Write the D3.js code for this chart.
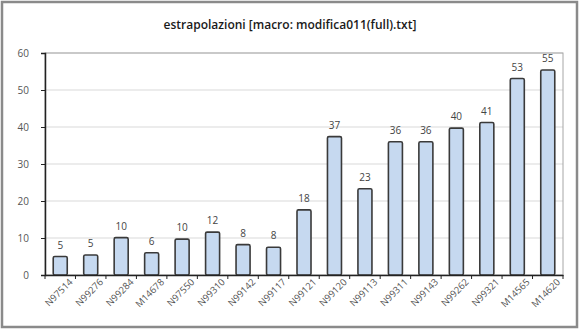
<!DOCTYPE html>
<html lang="it">
  <head>
    <meta charset="utf-8">
    <title>estrapolazioni</title>
    <style>
      body { margin: 0; background: #fff; }
      text { font-family: "Open Sans", "Liberation Sans", sans-serif; }
    </style>
  </head>
  <body>
    <div id="chart"></div>
    <script src="https://d3js.org/d3.v7.min.js"></script>
    <script>

    // data
    var categories = ["N97514", "N99276", "N99284", "M14678", "N97550", "N99310", "N99142", "N99117",
                      "N99121", "N99120", "N99113", "N99311", "N99143", "N99262", "N99321", "M14565", "M14620"];
    var values = [5.0, 5.4, 10.1, 6.0, 9.7, 11.6, 8.2, 7.5, 17.6, 37.4, 23.3, 36.0, 36.0, 39.7, 41.2, 53.1, 55.4];
    var yTicks = [0, 10, 20, 30, 40, 50, 60];
    var title = "estrapolazioni [macro: modifica011(full).txt]";

    var W = 579, H = 329;
    var margin = {top: 53, right: 16, bottom: 54, left: 45};
    var width = W - margin.left - margin.right,
        height = H - margin.top - margin.bottom;

    var svg = d3.select("#chart").append("svg")
        .attr("width", W)
        .attr("height", H);

    // outer frame
    svg.append("rect")
        .attr("x", 2).attr("y", 2)
        .attr("width", W - 4).attr("height", H - 4)
        .attr("fill", "#fff")
        .attr("stroke", "#8a8a8a")
        .attr("stroke-width", 2.5);

    svg.append("text")
        .attr("x", 290).attr("y", 29)
        .attr("text-anchor", "middle")
        .attr("font-size", "12px")
        .attr("font-weight", 600)
        .attr("fill", "#1a1a1a")
        .text(title);

    var g = svg.append("g")
        .attr("transform", "translate(" + margin.left + "," + margin.top + ")");

    var x = d3.scaleBand().domain(categories).range([0, width]).paddingInner(0.54).paddingOuter(0.27);
    var y = d3.scaleLinear().domain([0, 60]).range([height, 0]);

    // gridlines
    g.selectAll(".grid")
      .data(yTicks.slice(1))
      .enter().append("line")
        .attr("x1", 0).attr("x2", width)
        .attr("y1", function(d){ return y(d) }).attr("y2", function(d){ return y(d) })
        .attr("stroke", "#d9d9d9").attr("stroke-width", 1.2);

    // plot area border
    g.append("rect")
        .attr("width", width).attr("height", height)
        .attr("fill", "none").attr("stroke", "#a6a6a6").attr("stroke-width", 1);

    // bars
    g.selectAll(".bar")
      .data(values)
      .enter().append("rect")
        .attr("x", function(d, i){ return x(categories[i]) })
        .attr("y", function(d){ return y(d) })
        .attr("width", x.bandwidth())
        .attr("height", function(d){ return height - y(d) })
        .attr("rx", 1.5)
        .attr("fill", "#c6d9f0")
        .attr("stroke", "#3a3a3a")
        .attr("stroke-width", 1.6);

    // value labels
    g.selectAll(".val")
      .data(values)
      .enter().append("text")
        .attr("x", function(d, i){ return x(categories[i]) + x.bandwidth() / 2 })
        .attr("y", function(d){ return y(d) - 8 })
        .attr("text-anchor", "middle")
        .attr("font-size", "10px")
        .attr("fill", "#444")
        .text(function(d){ return Math.round(d) });

    // y axis
    var yAxis = g.append("g")
        .call(d3.axisLeft(y).tickValues(yTicks).tickSize(4).tickPadding(12));
    yAxis.select(".domain").attr("stroke", "#222").attr("stroke-width", 1.5);
    yAxis.selectAll(".tick line").attr("stroke", "#222");
    yAxis.selectAll("text").attr("font-size", "10px").attr("fill", "#555")
        .style("font-family", "'Open Sans', sans-serif");

    // x axis: ticks between categories
    var xAxis = g.append("g")
        .attr("transform", "translate(0," + height + ")")
        .call(d3.axisBottom(x).tickSize(0).tickPadding(9));
    xAxis.select(".domain").attr("stroke", "#222").attr("stroke-width", 1.5);
    xAxis.selectAll("text")
        .attr("font-size", "9.5px").attr("fill", "#555")
        .style("font-family", "'Open Sans', sans-serif")
        .attr("text-anchor", "end")
        .attr("dx", "0.4em").attr("dy", "0.6em")
        .attr("transform", "rotate(-45)");

    var step = x.step();
    g.selectAll(".xtick")
      .data(d3.range(categories.length + 1))
      .enter().append("line")
        .attr("x1", function(i){ return i * step }).attr("x2", function(i){ return i * step })
        .attr("y1", height).attr("y2", height + 4)
        .attr("stroke", "#222");

    </script>
  </body>
</html>
